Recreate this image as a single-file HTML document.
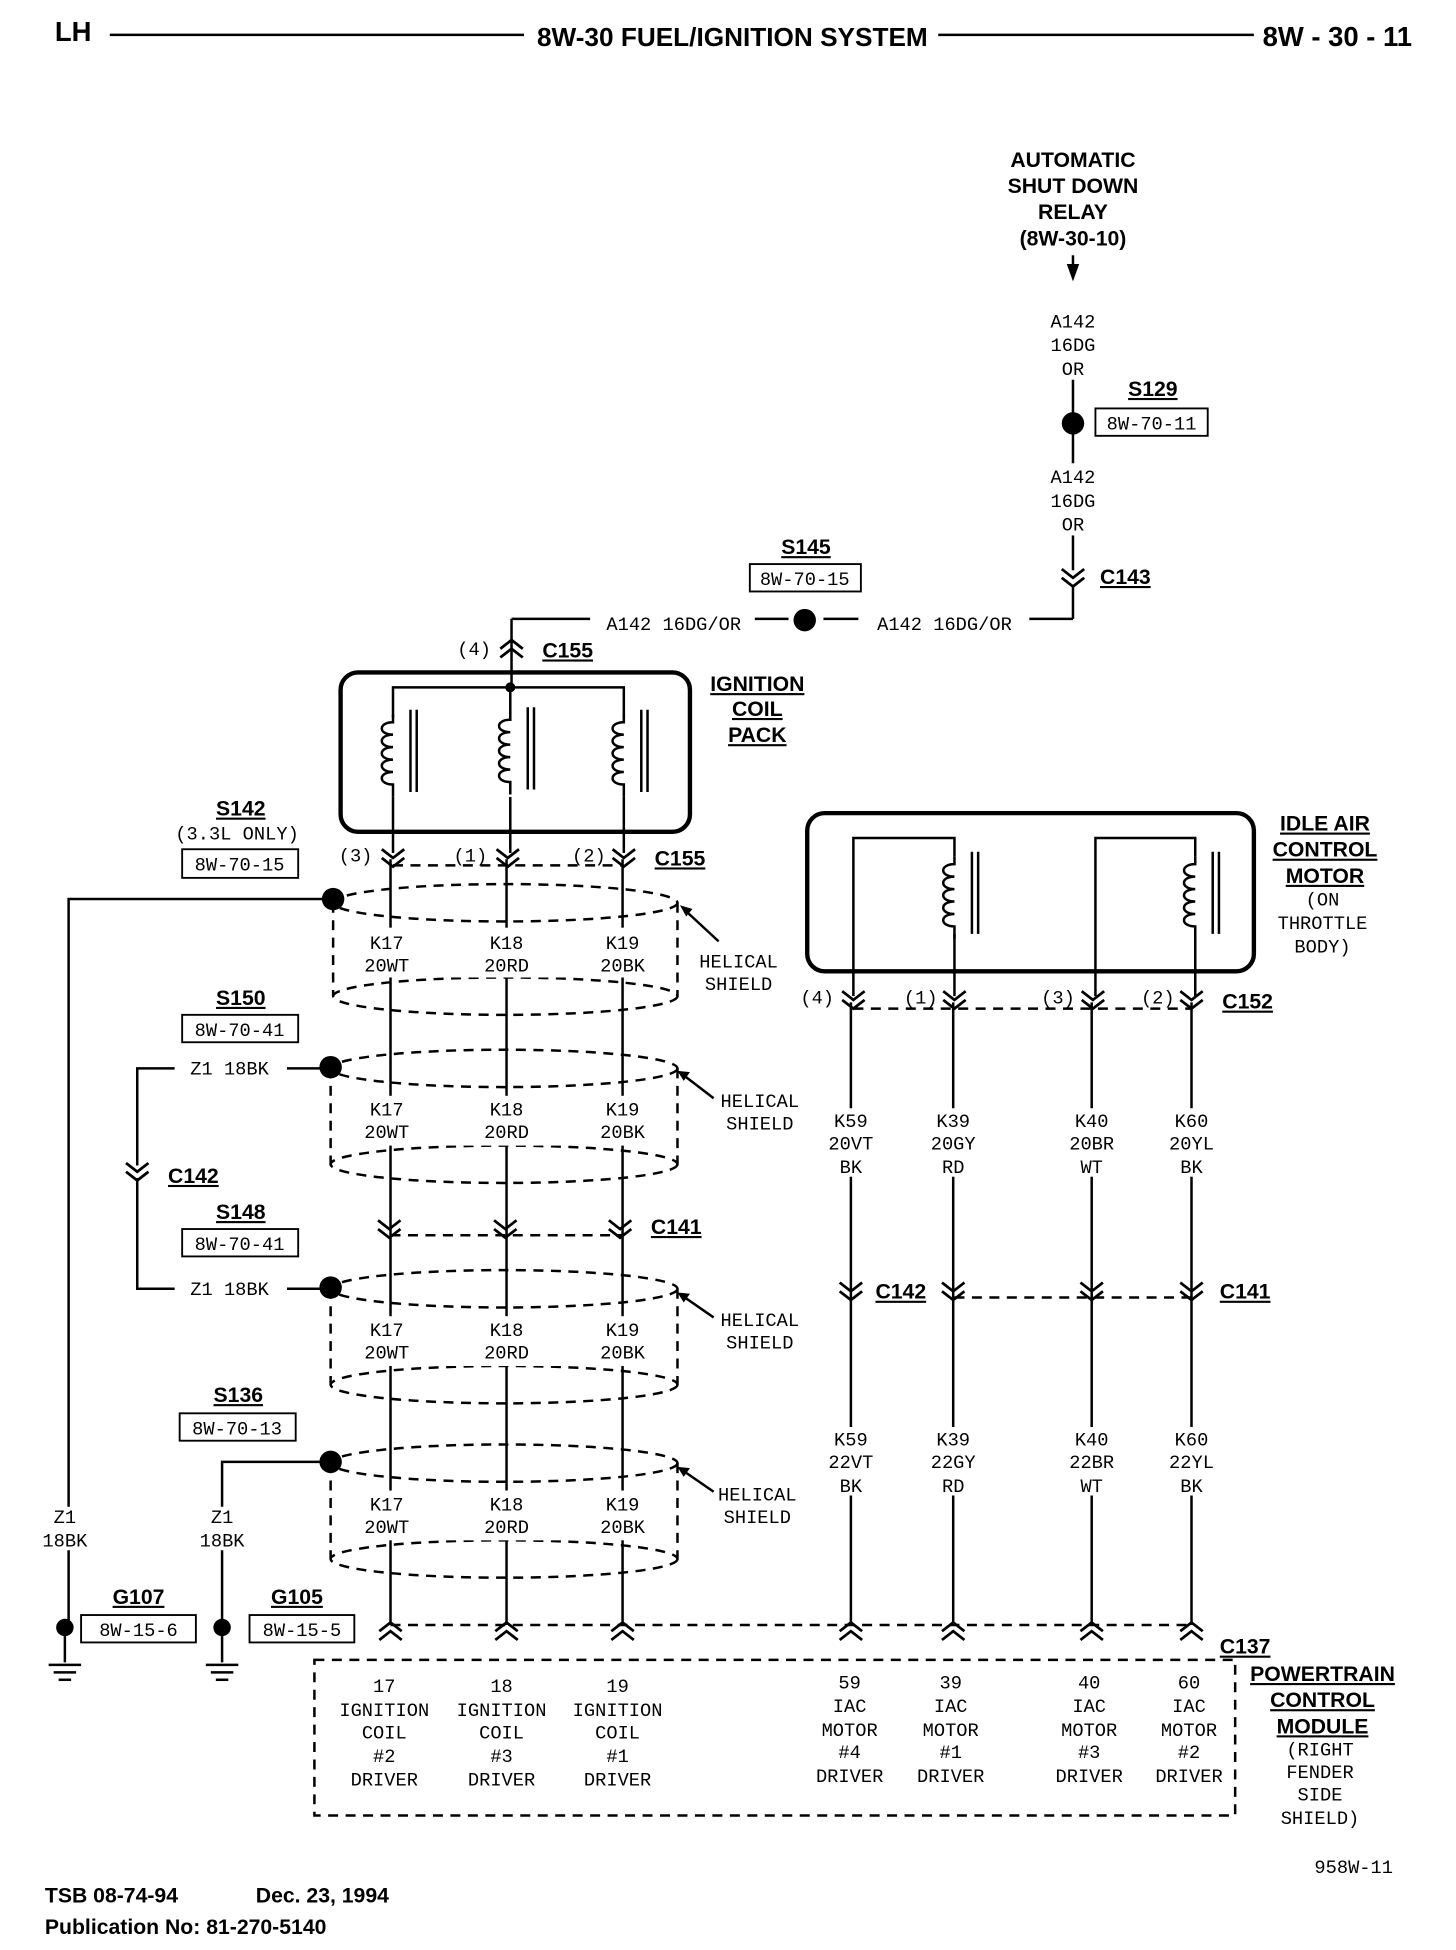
<!DOCTYPE html>
<html><head><meta charset="utf-8"><style>
html,body{margin:0;padding:0;background:#fff;}
svg{display:block;}
.m{font-family:"Liberation Mono",monospace;font-size:15px;fill:#000;text-anchor:middle;}
.b{font-family:"Liberation Sans",sans-serif;font-weight:bold;font-size:17px;fill:#000;text-anchor:middle;}
.h{font-family:"Liberation Sans",sans-serif;font-weight:bold;font-size:22px;fill:#000;}
.f{font-family:"Liberation Sans",sans-serif;font-weight:bold;font-size:17px;fill:#000;}
</style></head><body>
<svg width="1456" height="1950" viewBox="0 0 1167 1566" preserveAspectRatio="none" xmlns="http://www.w3.org/2000/svg">
<defs>
<g id="cd" fill="none" stroke="#000" stroke-width="2.2"><path d="M-9,-7 L0,0 L9,-7 M-9,0 L0,7 L9,0"/></g>
<g id="cu" fill="none" stroke="#000" stroke-width="2.2"><path d="M-9,7 L0,0 L9,7 M-9,0 L0,-7 L9,0"/></g>
<g id="coil" fill="none" stroke="#000" stroke-width="2"><path d="M0,0 v6 c-12,0 -12,10 0,10 c-12,0 -12,10 0,10 c-12,0 -12,10 0,10 c-12,0 -12,10 0,10 c-12,0 -12,10 0,10 v10"/><line x1="14" y1="-4" x2="14" y2="62"/><line x1="19" y1="-4" x2="19" y2="62"/></g>
<g id="gnd" stroke="#000" stroke-width="2"><line x1="0" y1="0" x2="0" y2="28"/><line x1="-13" y1="30" x2="13" y2="30"/><line x1="-9" y1="36" x2="9" y2="36"/><line x1="-5" y1="42" x2="5" y2="42"/></g>
</defs>
<!-- header -->
<text class="h" x="44" y="33">LH</text>
<line x1="88" y1="28" x2="420" y2="28" stroke="#000" stroke-width="2"/>
<text class="h" x="587" y="37" text-anchor="middle" style="font-size:21px">8W-30 FUEL/IGNITION SYSTEM</text>
<line x1="752" y1="28" x2="1005" y2="28" stroke="#000" stroke-width="2"/>
<text class="h" x="1012" y="37">8W - 30 - 11</text>

<g class="b"><text x="860" y="134">AUTOMATIC</text><text x="860" y="155">SHUT DOWN</text><text x="860" y="176">RELAY</text><text x="860" y="197">(8W-30-10)</text></g>
<g stroke="#000" stroke-width="2" fill="none">
<line x1="860" y1="205" x2="860" y2="215"/>
<line x1="860" y1="305" x2="860" y2="372"/>
<line x1="860" y1="430" x2="860" y2="458"/>
<line x1="860" y1="470" x2="860" y2="497"/>
<line x1="860" y1="497" x2="825" y2="497"/>
<line x1="660" y1="497" x2="688" y2="497"/>
<line x1="605" y1="497" x2="632" y2="497"/>
<line x1="410" y1="497" x2="473" y2="497"/>
<line x1="410" y1="497" x2="410" y2="552"/>
</g>
<path d="M855,212 L865,212 L860,226 Z" fill="#000"/>
<g class="m"><text x="860" y="263">A142</text><text x="860" y="282">16DG</text><text x="860" y="301">OR</text>
<text x="860" y="388">A142</text><text x="860" y="407">16DG</text><text x="860" y="426">OR</text></g>
<circle cx="860" cy="340" r="9"/>
<rect x="878" y="328" width="90" height="22" fill="none" stroke="#000" stroke-width="1.5"/>
<text class="m" x="923" y="345">8W-70-11</text>
<text class="b" x="924" y="318" text-decoration="underline">S129</text>
<use href="#cd" x="860" y="464"/>
<text class="b" x="902" y="469" text-decoration="underline">C143</text>
<text class="m" x="757" y="506">A142 16DG/OR</text>
<text class="m" x="540" y="506">A142 16DG/OR</text>
<circle cx="645" cy="498" r="9"/>
<text class="b" x="646" y="445" text-decoration="underline">S145</text>
<rect x="601" y="453" width="89" height="22" fill="none" stroke="#000" stroke-width="1.5"/>
<text class="m" x="645" y="470">8W-70-15</text>
<use href="#cu" x="410" y="521"/>
<text class="m" x="380" y="526">(4)</text>
<text class="b" x="455" y="528" text-decoration="underline">C155</text>

<!-- coil pack -->
<rect x="273" y="540" width="280" height="128" rx="14" fill="none" stroke="#000" stroke-width="3.5"/>
<g stroke="#000" stroke-width="2" fill="none"><path d="M315,576 V552 H500 V576"/><line x1="409" y1="552" x2="409" y2="574"/></g>
<circle cx="409" cy="552" r="4"/>
<use href="#coil" x="315" y="574"/><use href="#coil" x="409" y="572"/><use href="#coil" x="500" y="574"/>
<g stroke="#000" stroke-width="2"><line x1="315" y1="640" x2="315" y2="685"/><line x1="409" y1="640" x2="409" y2="685"/><line x1="500" y1="640" x2="500" y2="685"/></g>
<g class="b"><text x="607" y="555" text-decoration="underline">IGNITION</text><text x="607" y="575" text-decoration="underline">COIL</text><text x="607" y="596" text-decoration="underline">PACK</text></g>
<use href="#cd" x="315" y="689"/><use href="#cd" x="407" y="689"/><use href="#cd" x="500" y="689"/>
<g class="m"><text x="285" y="692">(3)</text><text x="377" y="692">(1)</text><text x="472" y="692">(2)</text></g>
<text class="b" x="545" y="695" text-decoration="underline">C155</text>

<!-- three ignition wires -->
<g stroke="#000" stroke-width="2"><line x1="313" y1="690" x2="313" y2="1305"/><line x1="406" y1="690" x2="406" y2="1305"/><line x1="499" y1="690" x2="499" y2="1305"/></g>
<g stroke="#000" stroke-width="2" stroke-dasharray="8,6" fill="none">
<line x1="315" y1="695" x2="500" y2="695"/>
<line x1="313" y1="992" x2="499" y2="992"/>
<line x1="313" y1="1305" x2="955" y2="1305"/>
<line x1="684" y1="810" x2="955" y2="810"/>
<line x1="765" y1="1042" x2="955" y2="1042"/>
<ellipse cx="405" cy="725" rx="138" ry="15"/><ellipse cx="405" cy="800" rx="138" ry="15"/><line x1="267" y1="725" x2="267" y2="800"/><line x1="543" y1="725" x2="543" y2="800"/>
<ellipse cx="404" cy="858" rx="139" ry="15"/><ellipse cx="404" cy="935" rx="139" ry="15"/><line x1="265" y1="858" x2="265" y2="935"/><line x1="543" y1="858" x2="543" y2="935"/>
<ellipse cx="404" cy="1035" rx="139" ry="15"/><ellipse cx="404" cy="1112" rx="139" ry="15"/><line x1="265" y1="1035" x2="265" y2="1112"/><line x1="543" y1="1035" x2="543" y2="1112"/>
<ellipse cx="404" cy="1175" rx="139" ry="15"/><ellipse cx="404" cy="1252" rx="139" ry="15"/><line x1="265" y1="1175" x2="265" y2="1252"/><line x1="543" y1="1175" x2="543" y2="1252"/>
<rect x="252" y="1333" width="738" height="125"/>
</g>
<g fill="#fff"><rect x="285" y="745" width="230" height="40"/><rect x="285" y="880" width="230" height="40"/><rect x="285" y="1057" width="230" height="40"/><rect x="285" y="1197" width="230" height="40"/></g>
<g class="m">
<text x="310" y="762">K17</text><text x="310" y="780">20WT</text><text x="406" y="762">K18</text><text x="406" y="780">20RD</text><text x="499" y="762">K19</text><text x="499" y="780">20BK</text>
<text x="310" y="896">K17</text><text x="310" y="914">20WT</text><text x="406" y="896">K18</text><text x="406" y="914">20RD</text><text x="499" y="896">K19</text><text x="499" y="914">20BK</text>
<text x="310" y="1073">K17</text><text x="310" y="1091">20WT</text><text x="406" y="1073">K18</text><text x="406" y="1091">20RD</text><text x="499" y="1073">K19</text><text x="499" y="1091">20BK</text>
<text x="310" y="1213">K17</text><text x="310" y="1231">20WT</text><text x="406" y="1213">K18</text><text x="406" y="1231">20RD</text><text x="499" y="1213">K19</text><text x="499" y="1231">20BK</text>
<text x="592" y="777">HELICAL</text><text x="592" y="795">SHIELD</text>
<text x="609" y="889">HELICAL</text><text x="609" y="907">SHIELD</text>
<text x="609" y="1065">HELICAL</text><text x="609" y="1083">SHIELD</text>
<text x="607" y="1205">HELICAL</text><text x="607" y="1223">SHIELD</text>
</g>
<g stroke="#000" stroke-width="2"><line x1="576" y1="756" x2="548" y2="730"/><line x1="572" y1="882" x2="546" y2="862"/><line x1="572" y1="1058" x2="546" y2="1040"/><line x1="572" y1="1198" x2="546" y2="1180"/></g>
<g fill="#000"><path d="M545,727 l10,3 l-5,6z"/><path d="M543,860 l10,1 l-5,7z"/><path d="M543,1038 l10,1 l-5,7z"/><path d="M543,1178 l10,1 l-5,7z"/></g>
<use href="#cd" x="312" y="987"/><use href="#cd" x="405" y="987"/><use href="#cd" x="497" y="987"/>
<text class="b" x="542" y="991" text-decoration="underline">C141</text>

<g stroke="#000" stroke-width="2" fill="none">
<path d="M267,722 H55 V1210"/><line x1="55" y1="1245" x2="55" y2="1307"/>
<line x1="230" y1="858" x2="265" y2="858"/><path d="M140,858 H110 V936"/><path d="M110,946 V1035 H140"/><line x1="230" y1="1035" x2="265" y2="1035"/>
<path d="M265,1174 H178 V1210"/><line x1="178" y1="1245" x2="178" y2="1307"/>
</g>
<circle cx="267" cy="722" r="9"/><circle cx="265" cy="857" r="9"/><circle cx="265" cy="1034" r="9"/><circle cx="265" cy="1174" r="9"/>
<g class="b"><text x="193" y="655" text-decoration="underline">S142</text><text x="193" y="807" text-decoration="underline">S150</text><text x="193" y="979" text-decoration="underline">S148</text><text x="191" y="1126" text-decoration="underline">S136</text></g>
<text class="m" x="190" y="674">(3.3L ONLY)</text>
<g fill="none" stroke="#000" stroke-width="1.5"><rect x="146" y="682" width="93" height="23"/><rect x="146" y="815" width="93" height="22"/><rect x="146" y="987" width="93" height="22"/><rect x="144" y="1135" width="93" height="22"/><rect x="65" y="1297" width="92" height="22"/><rect x="200" y="1297" width="84" height="22"/></g>
<g class="m"><text x="192" y="699">8W-70-15</text><text x="192" y="832">8W-70-41</text><text x="192" y="1004">8W-70-41</text><text x="190" y="1152">8W-70-13</text><text x="111" y="1314">8W-15-6</text><text x="242" y="1314">8W-15-5</text>
<text x="184" y="863">Z1 18BK</text><text x="184" y="1040">Z1 18BK</text>
<text x="52" y="1223">Z1</text><text x="52" y="1242">18BK</text><text x="178" y="1223">Z1</text><text x="178" y="1242">18BK</text></g>
<use href="#cd" x="110" y="941"/>
<text class="b" x="155" y="950" text-decoration="underline">C142</text>
<g class="b"><text x="111" y="1288" text-decoration="underline">G107</text><text x="238" y="1288" text-decoration="underline">G105</text></g>
<circle cx="52" cy="1307" r="7"/><circle cx="178" cy="1307" r="7"/>
<use href="#gnd" x="52" y="1307"/><use href="#gnd" x="178" y="1307"/>

<!-- IAC motor -->
<rect x="647" y="653" width="358" height="127" rx="14" fill="none" stroke="#000" stroke-width="3.5"/>
<g stroke="#000" stroke-width="2" fill="none"><path d="M684,800 V673 H765 V688"/><path d="M878,800 V673 H958 V688"/><line x1="765" y1="750" x2="765" y2="800"/><line x1="958" y1="750" x2="958" y2="800"/></g>
<use href="#coil" x="765" y="688"/><use href="#coil" x="958" y="688"/>
<g class="b"><text x="1062" y="667" text-decoration="underline">IDLE AIR</text><text x="1062" y="688" text-decoration="underline">CONTROL</text><text x="1062" y="709" text-decoration="underline">MOTOR</text></g>
<g class="m"><text x="1060" y="727">(ON</text><text x="1060" y="746">THROTTLE</text><text x="1060" y="765">BODY)</text></g>
<use href="#cd" x="684" y="803"/><use href="#cd" x="765" y="803"/><use href="#cd" x="876" y="803"/><use href="#cd" x="955" y="803"/>
<g class="m"><text x="655" y="806">(4)</text><text x="738" y="806">(1)</text><text x="848" y="806">(3)</text><text x="928" y="806">(2)</text></g>
<text class="b" x="1000" y="810" text-decoration="underline">C152</text>
<g stroke="#000" stroke-width="2"><line x1="682" y1="805" x2="682" y2="1305"/><line x1="764" y1="805" x2="764" y2="1305"/><line x1="875" y1="805" x2="875" y2="1305"/><line x1="955" y1="805" x2="955" y2="1305"/></g>
<g fill="#fff"><rect x="655" y="890" width="55" height="55"/><rect x="737" y="890" width="55" height="55"/><rect x="848" y="890" width="55" height="55"/><rect x="928" y="890" width="55" height="55"/>
<rect x="655" y="1146" width="55" height="55"/><rect x="737" y="1146" width="55" height="55"/><rect x="848" y="1146" width="55" height="55"/><rect x="928" y="1146" width="55" height="55"/></g>
<g class="m">
<text x="682" y="905">K59</text><text x="682" y="923">20VT</text><text x="682" y="942">BK</text>
<text x="764" y="905">K39</text><text x="764" y="923">20GY</text><text x="764" y="942">RD</text>
<text x="875" y="905">K40</text><text x="875" y="923">20BR</text><text x="875" y="942">WT</text>
<text x="955" y="905">K60</text><text x="955" y="923">20YL</text><text x="955" y="942">BK</text>
<text x="682" y="1161">K59</text><text x="682" y="1179">22VT</text><text x="682" y="1198">BK</text>
<text x="764" y="1161">K39</text><text x="764" y="1179">22GY</text><text x="764" y="1198">RD</text>
<text x="875" y="1161">K40</text><text x="875" y="1179">22BR</text><text x="875" y="1198">WT</text>
<text x="955" y="1161">K60</text><text x="955" y="1179">22YL</text><text x="955" y="1198">BK</text>
</g>
<use href="#cd" x="682" y="1037"/><use href="#cd" x="764" y="1037"/><use href="#cd" x="875" y="1037"/><use href="#cd" x="955" y="1037"/>
<text class="b" x="722" y="1043" text-decoration="underline">C142</text>
<text class="b" x="998" y="1043" text-decoration="underline">C141</text>

<use href="#cu" x="313" y="1310"/><use href="#cu" x="406" y="1310"/><use href="#cu" x="499" y="1310"/><use href="#cu" x="682" y="1310"/><use href="#cu" x="764" y="1310"/><use href="#cu" x="875" y="1310"/><use href="#cu" x="955" y="1310"/>
<text class="b" x="998" y="1328" text-decoration="underline">C137</text>
<g class="m">
<text x="308" y="1359">17</text><text x="308" y="1378">IGNITION</text><text x="308" y="1396">COIL</text><text x="308" y="1415">#2</text><text x="308" y="1434">DRIVER</text>
<text x="402" y="1359">18</text><text x="402" y="1378">IGNITION</text><text x="402" y="1396">COIL</text><text x="402" y="1415">#3</text><text x="402" y="1434">DRIVER</text>
<text x="495" y="1359">19</text><text x="495" y="1378">IGNITION</text><text x="495" y="1396">COIL</text><text x="495" y="1415">#1</text><text x="495" y="1434">DRIVER</text>
<text x="681" y="1356">59</text><text x="681" y="1375">IAC</text><text x="681" y="1394">MOTOR</text><text x="681" y="1412">#4</text><text x="681" y="1431">DRIVER</text>
<text x="762" y="1356">39</text><text x="762" y="1375">IAC</text><text x="762" y="1394">MOTOR</text><text x="762" y="1412">#1</text><text x="762" y="1431">DRIVER</text>
<text x="873" y="1356">40</text><text x="873" y="1375">IAC</text><text x="873" y="1394">MOTOR</text><text x="873" y="1412">#3</text><text x="873" y="1431">DRIVER</text>
<text x="953" y="1356">60</text><text x="953" y="1375">IAC</text><text x="953" y="1394">MOTOR</text><text x="953" y="1412">#2</text><text x="953" y="1431">DRIVER</text>
<text x="1058" y="1410">(RIGHT</text><text x="1058" y="1428">FENDER</text><text x="1058" y="1446">SIDE</text><text x="1058" y="1465">SHIELD)</text>
<text x="1085" y="1504">958W-11</text>
</g>
<g class="b"><text x="1060" y="1350" text-decoration="underline">POWERTRAIN</text><text x="1060" y="1371" text-decoration="underline">CONTROL</text><text x="1060" y="1392" text-decoration="underline">MODULE</text></g>
<text class="f" x="36" y="1528">TSB 08-74-94</text>
<text class="f" x="205" y="1528">Dec. 23, 1994</text>
<text class="f" x="36" y="1553">Publication No:  81-270-5140</text>
</svg>
</body></html>
